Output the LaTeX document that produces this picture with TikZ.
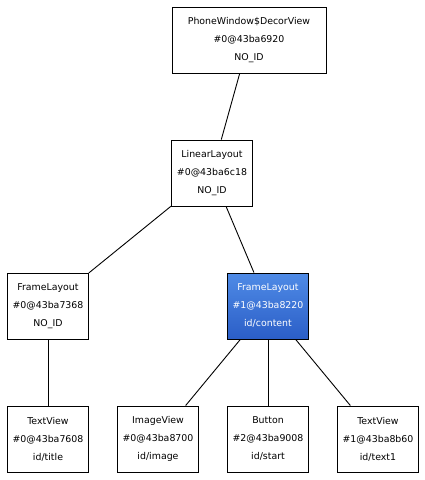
\documentclass[tikz,border=0pt]{standalone}
\usepackage{fontspec}
\setmainfont{DejaVu Sans}
\definecolor{selTop}{HTML}{4F8BE6}
\definecolor{selBot}{HTML}{2B5EC7}
\begin{document}
\begin{tikzpicture}[x=1pt,y=1pt,line width=0.9pt,
        every node/.style={rectangle,draw,fill=white,align=center,inner sep=0pt,
            minimum width=81pt,minimum height=66pt,
            font=\fontsize{9.4pt}{18pt}\selectfont,
            execute at begin node={\rule{0pt}{11pt}}},
        sel/.style={top color=selTop,bottom color=selBot,text=white}]
        \useasboundingbox (0,0) rectangle (425,-480);
        \node[minimum width=154pt] (decor) at (249,-40) {PhoneWindow\$DecorView\\\#0@43ba6920\\NO\_ID};
        \node (linear) at (212,-173) {LinearLayout\\\#0@43ba6c18\\NO\_ID};
        \node (frame) at (48,-306) {FrameLayout\\\#0@43ba7368\\NO\_ID};
        \node[sel] (content) at (268,-306) {FrameLayout\\\#1@43ba8220\\id/content};
        \node (title) at (48,-439) {TextView\\\#0@43ba7608\\id/title};
        \node (image) at (158,-439) {ImageView\\\#0@43ba8700\\id/image};
        \node (start) at (268,-439) {Button\\\#2@43ba9008\\id/start};
        \node (text1) at (378,-439) {TextView\\\#1@43ba8b60\\id/text1};
        \draw (decor) -- (linear);
        \draw (linear) -- (frame);
        \draw (linear) -- (content);
        \draw (frame) -- (title);
        \draw (content) -- (image);
        \draw (content) -- (start);
        \draw (content) -- (text1);
\end{tikzpicture}
\end{document}
